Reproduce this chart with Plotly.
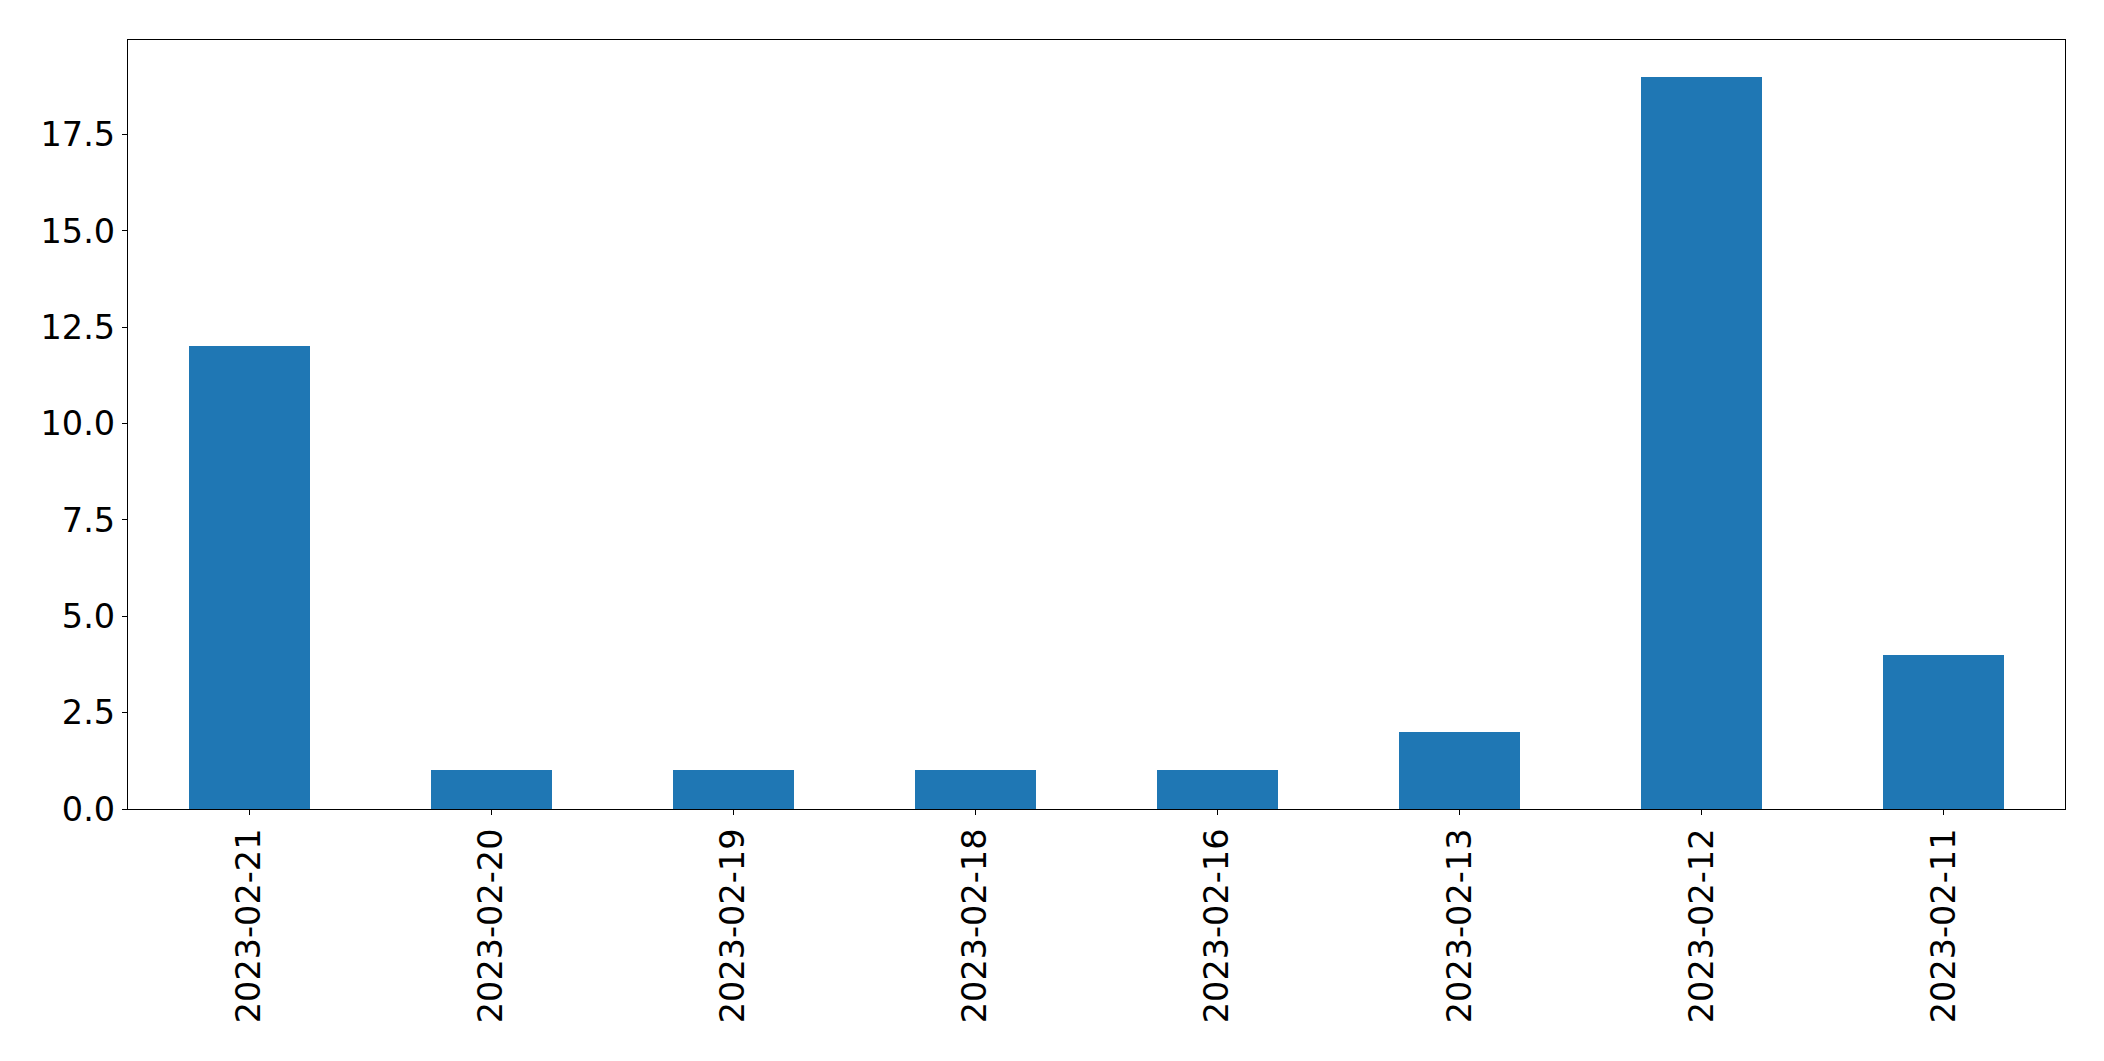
import plotly.graph_objects as go

dates = ["2023-02-21", "2023-02-20", "2023-02-19", "2023-02-18",
         "2023-02-16", "2023-02-13", "2023-02-12", "2023-02-11"]
counts = [12, 1, 1, 1, 1, 2, 19, 4]

# page body has an 8px margin; compensate
OFF = 8
W, H = 2104 - OFF, 1061 - OFF
L, R, T, B = 127.5 - OFF, 2065 - OFF, 39.5 - OFF, 809 - OFF

fig = go.Figure(go.Bar(x=dates, y=counts, width=0.5, marker_color="#1f77b4",
                       marker_line_width=0))

font = dict(family="DejaVu Sans", size=33.5, color="black")
fig.update_layout(
    width=W, height=H,
    margin=dict(l=L, r=W - R, t=T, b=H - B, pad=0),
    paper_bgcolor="white", plot_bgcolor="white",
    showlegend=False, bargap=0,
    font=font,
)
fig.update_xaxes(type="category", range=[-0.5, 7.5], showgrid=False,
                 showline=True, mirror=True, linecolor="black", linewidth=1.3,
                 ticks="outside", ticklen=5, tickwidth=1.3, tickcolor="black",
                 tickangle=-90, tickfont=font, zeroline=False)
fig.update_yaxes(range=[0, 19.95], dtick=2.5, tick0=0, tickformat=".1f",
                 showgrid=False, showline=True, mirror=True, linecolor="black",
                 linewidth=1.3, ticks="outside", ticklen=5, tickwidth=1.3,
                 tickcolor="black", tickfont=font, zeroline=False)

fig.write_html("out.html")
